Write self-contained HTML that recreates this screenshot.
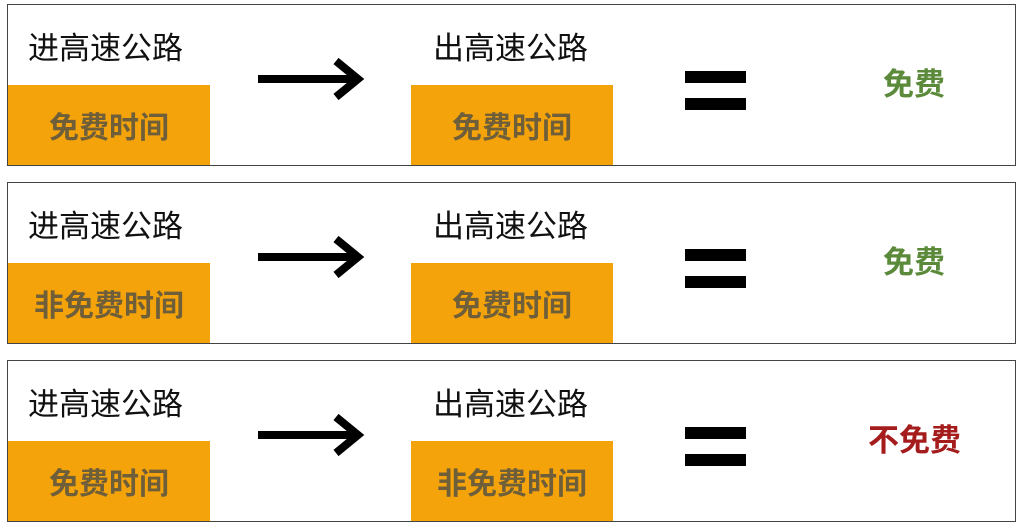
<!DOCTYPE html>
<html><head><meta charset="utf-8"><style>
body{margin:0;width:1024px;height:532px;background:#fff;position:relative;overflow:hidden;font-family:"Liberation Sans","Noto Sans CJK SC",sans-serif}
.p{position:absolute;left:7px;width:1007px;height:160px;border:1.5px solid #444;background:#fff}
.t{position:absolute;font-size:31px;color:#111;line-height:1;white-space:nowrap}
.o{position:absolute;top:80px;width:202px;height:80px;background:#f5a30a;color:#6e5f3a;font-weight:bold;font-size:30px;display:flex;align-items:center;justify-content:center}
.eq{position:absolute;left:677px;width:61px;height:12px;background:#000}
.r{position:absolute;font-size:31px;font-weight:bold;line-height:1;white-space:nowrap}
svg{position:absolute;left:248px;top:50px}
</style></head><body>
<div class="p" style="top:4px">
<div class="t" style="left:20px;top:28px">进高速公路</div>
<div class="o" style="left:0">免费时间</div>
<svg width="120" height="50"><path d="M2 24H100M80 6L102 24L80 42" stroke="#000" stroke-width="8" fill="none"/></svg>
<div class="t" style="left:425px;top:28px">出高速公路</div>
<div class="o" style="left:403px">免费时间</div>
<div class="eq" style="top:66px"></div><div class="eq" style="top:93px"></div>
<div class="r" style="left:875px;top:64px;color:#5a8a3a">免费</div>
</div>
<div class="p" style="top:182px">
<div class="t" style="left:20px;top:28px">进高速公路</div>
<div class="o" style="left:0">非免费时间</div>
<svg width="120" height="50"><path d="M2 24H100M80 6L102 24L80 42" stroke="#000" stroke-width="8" fill="none"/></svg>
<div class="t" style="left:425px;top:28px">出高速公路</div>
<div class="o" style="left:403px">免费时间</div>
<div class="eq" style="top:66px"></div><div class="eq" style="top:93px"></div>
<div class="r" style="left:875px;top:64px;color:#5a8a3a">免费</div>
</div>
<div class="p" style="top:360px">
<div class="t" style="left:20px;top:28px">进高速公路</div>
<div class="o" style="left:0">免费时间</div>
<svg width="120" height="50"><path d="M2 24H100M80 6L102 24L80 42" stroke="#000" stroke-width="8" fill="none"/></svg>
<div class="t" style="left:425px;top:28px">出高速公路</div>
<div class="o" style="left:403px">非免费时间</div>
<div class="eq" style="top:66px"></div><div class="eq" style="top:93px"></div>
<div class="r" style="left:860px;top:64px;color:#a51c1c">不免费</div>
</div>
</body></html>
